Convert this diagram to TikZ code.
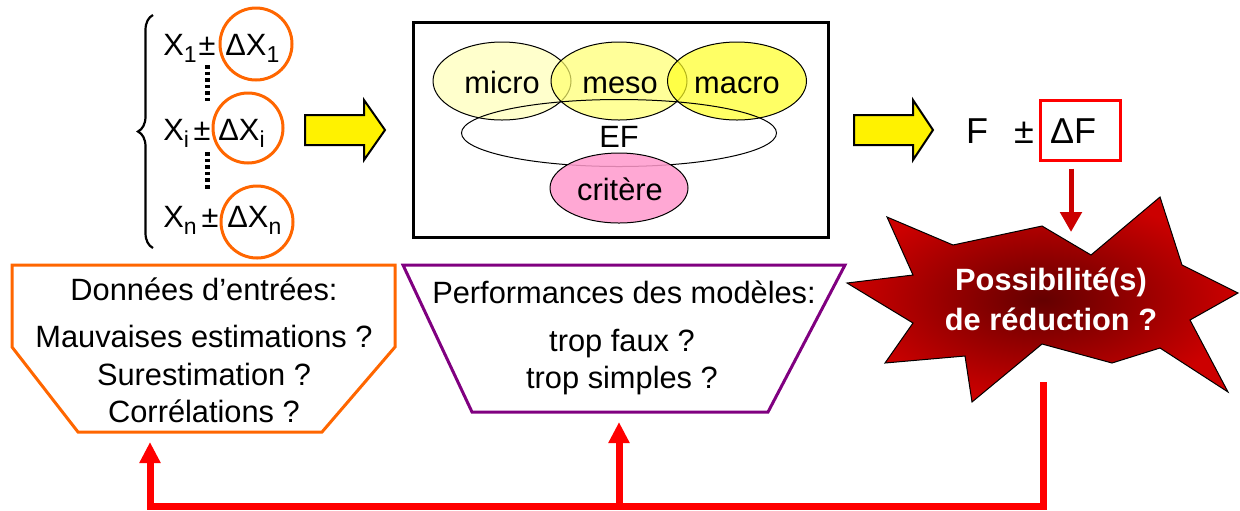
\documentclass[tikz,border=0pt]{standalone}
\usepackage{fontspec}
\setmainfont{Liberation Sans}
\usetikzlibrary{
    arrows.meta,
    positioning,
    calc,
    shapes.geometric,
    decorations.pathreplacing
}
\definecolor{orgn}{RGB}{255,102,0}
\definecolor{purp}{RGB}{128,0,128}
\definecolor{redfb}{RGB}{255,0,0}
\definecolor{dred}{RGB}{204,0,0}
\definecolor{stardark}{RGB}{100,0,0}
\definecolor{starred}{RGB}{204,0,0}
\definecolor{ymicro}{RGB}{255,255,182}
\definecolor{ymeso}{RGB}{255,255,109}
\definecolor{ymacro}{RGB}{255,255,36}
\definecolor{pinkc}{RGB}{255,153,204}
\newcommand\lowidx[1]{\raisebox{-3.5pt}{\fontsize{11.5}{11.5}\selectfont #1}}
\tikzset{
  txt/.style    = {font=\fontsize{15.4}{18.8}\selectfont, align=center, inner sep=0pt},
  bigtxt/.style = {font=\fontsize{18}{20}\selectfont, inner sep=0pt},
  ell/.style    = {draw, ellipse, inner sep=0pt, line width=0.5pt},
  ring/.style   = {draw=orgn, circle, line width=1.5pt, inner sep=0pt},
  fatarr/.style = {draw=black, line width=1pt, fill=yellow},
  dotline/.style= {line width=2.4pt, dash pattern=on 1.8pt off 1.5pt},
  fb/.style     = {redfb, line width=3.5pt},
  fbarr/.style  = {fb, -{Triangle[width=10pt,length=10.5pt]}},
  darr/.style   = {dred, line width=2.5pt, -{Triangle[width=10.5pt,length=10pt]}}
}

\begin{document}
\begin{tikzpicture}[x=0.5pt, y=-0.5pt]
    \useasboundingbox (0,0) rectangle (1240,510);

    % Inputs
    \draw[line width=1.1pt, decorate, decoration={brace, amplitude=7.5pt}]
        (153,248) -- (153,15);
    \node[txt, anchor=base west] (x1) at (163,55)  {X\lowidx{1}};
    \node[txt, anchor=base west] (xi) at (163,140) {X\lowidx{i}};
    \node[txt, anchor=base west] (xn) at (163,227) {X\lowidx{n}};
    \node[txt, anchor=base] (pm1) at (207,55)  {±};
    \node[txt, anchor=base] (pmi) at (202,140) {±};
    \node[txt, anchor=base] (pmn) at (210,227) {±};
    \node[txt, anchor=base west] (dx1) at (225,55)  {ΔX\lowidx{1}};
    \node[txt, anchor=base west] (dxi) at (218,140) {ΔX\lowidx{i}};
    \node[txt, anchor=base west] (dxn) at (227,227) {ΔX\lowidx{n}};
    \node[ring, minimum size=36pt] (r1) at (256,44)  {};
    \node[ring, minimum size=35pt] (ri) at (248,128) {};
    \node[ring, minimum size=36pt] (rn) at (257,222) {};
    \draw[dotline] (207.5,65)  -- (207.5,101);
    \draw[dotline] (207.5,152) -- (207.5,189);

    \draw[fatarr] (305,115) -- (364,115) -- (364,100) -- (385,130)
        -- (364,160) -- (364,145) -- (305,145) -- cycle;

    % Models
    \node[draw, line width=1.5pt, minimum width=207.5pt, minimum height=107.5pt]
        (mdl) at (620.5,129.5) {};
    \node[ell, fill=ymicro, fill opacity=0.7, minimum width=69pt, minimum height=39pt]
        (micro) at (502,81) {};
    \node[ell, fill=ymeso, fill opacity=0.7, minimum width=68pt, minimum height=39pt]
        (meso) at (619,81) {};
    \node[ell, fill=ymacro, fill opacity=0.7, minimum width=69.5pt, minimum height=39pt]
        (macro) at (737,81) {};
    \node[ell, minimum width=157.5pt, minimum height=33.5pt] (ef) at (619,133) {};
    \node[ell, fill=pinkc, fill opacity=0.85, minimum width=69pt, minimum height=35pt]
        (crit) at (619,188) {};
    \node[txt, anchor=base] (microtxt) at (502,93)  {micro};
    \node[txt, anchor=base] (mesotxt)  at (620,93)  {meso};
    \node[txt, anchor=base] (macrotxt) at (737,93)  {macro};
    \node[txt, anchor=base] (eftxt)    at (619,147) {EF};
    \node[txt, anchor=base] (crittxt)  at (620,200) {critère};

    \draw[fatarr] (854,115) -- (913,115) -- (913,100) -- (933,130)
        -- (913,160) -- (913,145) -- (854,145) -- cycle;

    % Output
    \node[bigtxt, anchor=base] (ff) at (977,143) {F};
    \node[bigtxt, anchor=base] (pm) at (1024,143) {±};
    \node[draw=redfb, line width=1.5pt, minimum width=40pt, minimum height=30pt]
        (dF) at (1080,130) {};
    \node[bigtxt, anchor=base] (dftxt) at (1073,143) {ΔF};

    \shadedraw[draw=black, line width=0.5pt, inner color=stardark, outer color=starred]
        (887,217) -- (953,245) -- (1042,226) -- (1091,255) -- (1160,197)
        -- (1182,265) -- (1238,293) -- (1190,320) -- (1228,392) -- (1160,348)
        -- (1112,363) -- (1042,344) -- (972,402) -- (965,356) -- (885,363)
        -- (913,323) -- (847,283) -- (913,275) -- cycle;
    \node[txt, text=white, font=\fontsize{15.4}{20}\selectfont\bfseries]
        (reduc) at (1051,299) {Possibilité(s)\\de réduction ?};
    \coordinate (tipR) at (1071,232);
    \draw[darr] ([xshift=-4.5pt,yshift=-3.5pt]dF.south) -- (tipR);

    % Questions
    \draw[orgn, line width=1.5pt] (12,265) -- (395,265) -- (395,347)
        -- (322,432) -- (78,432) -- (12,347) -- cycle;
    \node[txt, anchor=base] (donnees) at (204,300) {Données d’entrées:};
    \node[txt] (donq) at (204,374) {Mauvaises estimations ?\\Surestimation ?\\Corrélations ?};

    \draw[purp, line width=1.5pt] (403,265) -- (845,265) -- (768,412)
        -- (472,412) -- cycle;
    \node[txt, anchor=base] (perf) at (624,303) {Performances des modèles:};
    \node[txt] (perfq) at (622,362) {trop faux ?\\trop simples ?};

    % Feedback
    \coordinate (fbtop) at (1043,382);
    \coordinate (fbmid) at (619,506);
    \coordinate (tipD)  at (150,442);
    \coordinate (tipP)  at (619,422);
    \draw[fbarr] (fbtop) -- (fbtop |- fbmid) -| (tipD);
    \draw[fbarr] (fbmid) -- (tipP);
\end{tikzpicture}
\end{document}
